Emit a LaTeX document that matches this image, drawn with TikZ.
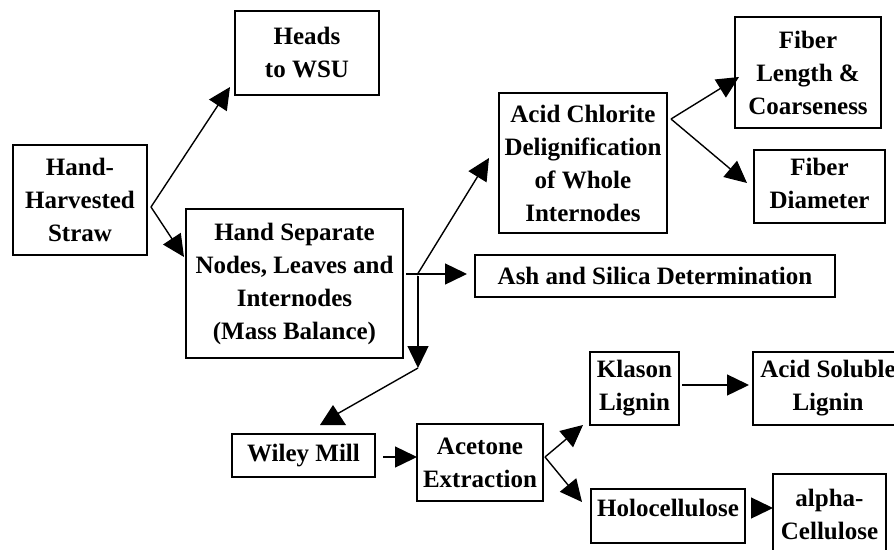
\documentclass[tikz,border=0pt]{standalone}
\usepackage{fontspec}
\setmainfont{Liberation Serif}
\usetikzlibrary{arrows.meta}
\begin{document}
\begin{tikzpicture}[x=1pt,y=-1pt,
  lbl/.style={font=\bfseries\fontsize{25}{33}\selectfont},
  box/.style={draw, line width=1.8pt, inner sep=0pt, align=center, lbl},
  txt/.style={inner sep=0pt, align=center, lbl},
  ln/.style={line width=1.4pt},
  arr/.style={ln, -{Triangle[length=22pt,width=21pt]}}]
\useasboundingbox (0,0) rectangle (894,549);
\clip (0,0) rectangle (894,549);
\fill[white] (0,0) rectangle (894,549);

% boxes
\node[box, minimum width=144pt, minimum height=84pt]  (heads)  at (307,53)     {Heads\\to WSU};
\node[box, minimum width=134pt, minimum height=110pt] (straw)  at (80,200)     {Hand-\\Harvested\\Straw};
\node[box, minimum width=217pt, minimum height=149pt] (sep)    at (294.5,283.5){Hand Separate\\Nodes, Leaves and\\Internodes\\(Mass Balance)};
\node[box, minimum width=168pt, minimum height=140pt] (acid)   at (583,163)    {Acid Chlorite\\Delignification\\of Whole\\Internodes};
\node[box, minimum width=146pt, minimum height=111pt] (flen)   at (808,72.5)   {Fiber\\Length \&\\Coarseness};
\node[box, minimum width=131pt, minimum height=73pt]  (fdia)   at (819.5,186.5){};
\node[txt] (fdiat) at (819.5,183) {Fiber\\Diameter};
\node[box, minimum width=360pt, minimum height=42pt]  (ash)    at (655,276)    {Ash and Silica Determination};
\node[box, minimum width=143pt, minimum height=43pt]  (wiley)  at (303.5,455.5){Wiley Mill};
\node[box, minimum width=126pt, minimum height=77pt]  (acet)   at (480,462.5)  {Acetone\\Extraction};
\node[box, minimum width=89pt,  minimum height=73pt]  (klason) at (634.5,388.5){Klason\\Lignin};
\node[box, minimum width=150pt, minimum height=73pt]  (asl)    at (828,388.5)  {Acid Soluble\\Lignin};
\node[box, minimum width=154pt, minimum height=54pt]  (holo)   at (668,516)    {};
\node[txt] (holot) at (668,508) {Holocellulose};
\node[box, minimum width=113pt, minimum height=90pt]  (alpha)  at (829.5,519)  {};
\node[txt] (alphat) at (829.5,514) {alpha-\\Cellulose};

% junctions and arrow tips
\coordinate (sp) at (151,207);
\coordinate (tHeads) at (230,87);
\coordinate (tSep) at (184,257);
\coordinate (jh) at (406,274);
\coordinate (jd) at (417,275);
\coordinate (jv) at (418,276);
\coordinate (tAsh) at (467,274);
\coordinate (tAcid) at (489,158);
\coordinate (tDown) at (418,368);
\coordinate (wEnd) at (337,414);
\coordinate (ac) at (545,457);
\coordinate (tKl) at (583,425);
\coordinate (tHo) at (582,502);
\coordinate (wOut) at (383,457);
\coordinate (tAcet) at (417,457);
\coordinate (kOut) at (682,385);
\coordinate (tAsl) at (749,385);
\coordinate (hOut) at (752,508);
\coordinate (tAl) at (773,508);
\coordinate (fs) at (671,119);
\coordinate (tFl) at (739,77);
\coordinate (tFd) at (747,183);

% connectors
\draw[arr] (sp) -- (tHeads);
\draw[arr] (sp) -- (tSep);
\draw[arr] (jh) -- (tAsh);
\draw[arr] (jd) -- (tAcid);
\draw[arr] (jv) -- (tDown);
\draw[ln] (tDown) -- (wEnd);
\fill (320,425) -- (346,425) -- (333,405) -- cycle;
\draw[arr] (wOut) -- (tAcet);
\draw[arr] (ac) -- (tKl);
\draw[arr] (ac) -- (tHo);
\draw[arr] (kOut) -- (tAsl);
\draw[arr] (hOut) -- (tAl);
\draw[arr] (fs) -- (tFl);
\draw[arr] (fs) -- (tFd);
\end{tikzpicture}
\end{document}
